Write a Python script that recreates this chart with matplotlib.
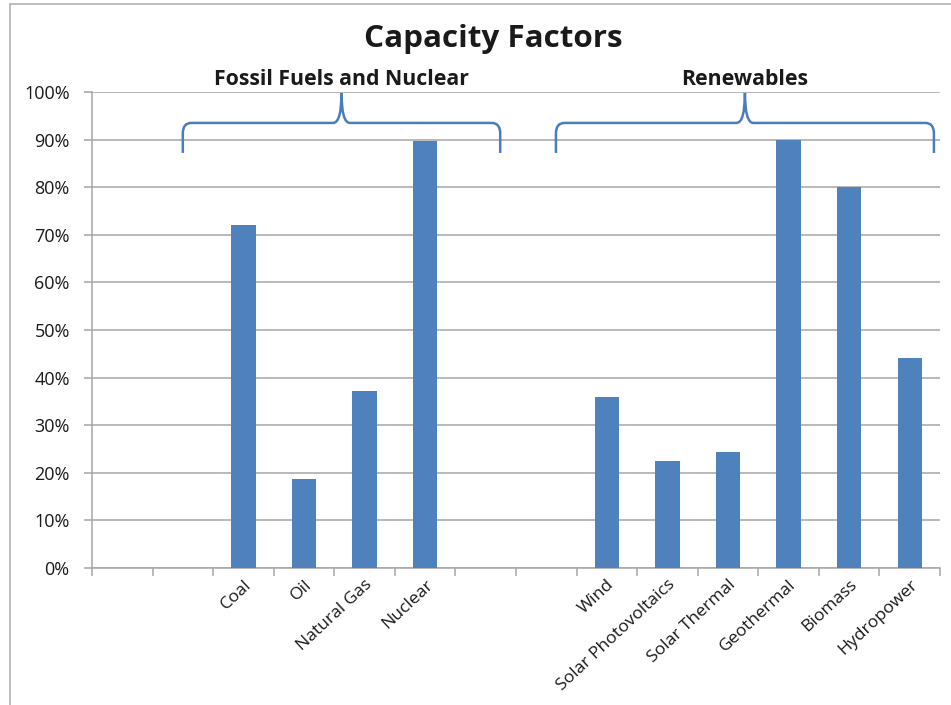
import matplotlib.pyplot as plt
from matplotlib.path import Path
from matplotlib.patches import PathPatch, Rectangle
from matplotlib.ticker import MultipleLocator, PercentFormatter
import numpy as np

# Category slots (empty slots separate and pad the two groups)
categories = ['', '', 'Coal', 'Oil', 'Natural Gas', 'Nuclear', '', '',
              'Wind', 'Solar Photovoltaics', 'Solar Thermal', 'Geothermal',
              'Biomass', 'Hydropower']
capacity = [0, 0, 72.1, 18.8, 37.2, 89.8, 0, 0,
            36.0, 22.5, 24.4, 90.0, 80.0, 44.1]

groups = ['Fossil Fuels and Nuclear', 'Renewables']
group_spans = [(1.0, 6.24), (7.16, 13.4)]

bar_color = '#4f81bd'
grid_color = '#a6a6a6'
brace_color = '#4a7ebb'
text_color = '#1a1a1a'

fig = plt.figure(figsize=(9.51, 7.05), dpi=100)
ax = fig.add_axes([0.0967, 0.1943, 0.8917, 0.6752])

x = np.arange(len(categories))
ax.bar(x, capacity, width=0.4, color=bar_color, zorder=3)

ax.set_xlim(-0.5, len(categories) - 0.5)
ax.set_ylim(0, 100)
ax.yaxis.set_major_locator(MultipleLocator(10))
ax.yaxis.set_major_formatter(PercentFormatter(decimals=0))
ax.grid(axis='y', color=grid_color, linewidth=1.1, zorder=0)

for side in ['top', 'right']:
    ax.spines[side].set_visible(False)
for side in ['bottom', 'left']:
    ax.spines[side].set_color(grid_color)
    ax.spines[side].set_linewidth(1.1)

# ticks on category boundaries, labels centred on bars
ax.set_xticks(np.arange(len(categories) + 1) - 0.5)
ax.set_xticklabels([])
ax.set_xticks(x, minor=True)
ax.set_xticklabels(categories, minor=True, rotation=43, ha='right',
                   va='top', rotation_mode='anchor', fontsize=12.6,
                   family='Open Sans', color=text_color)
ax.tick_params(axis='x', which='major', length=6, color=grid_color, width=1.1)
ax.tick_params(axis='x', which='minor', length=0, pad=6)
ax.tick_params(axis='y', length=6, color=grid_color, width=1.1, pad=10,
               labelsize=13, labelcolor=text_color)
for lbl in ax.get_yticklabels():
    lbl.set_family('Open Sans')


def brace(x0, x1, y_end=87.2, y_bar=93.5, y_tip=99.8):
    xm = (x0 + x1) / 2
    dx, dy = 0.14, 2.2
    verts = [(x0, y_end), (x0, y_bar - dy), (x0, y_bar), (x0 + dx, y_bar),
             (xm - dx, y_bar), (xm, y_bar), (xm, y_tip),
             (xm, y_tip), (xm, y_bar), (xm + dx, y_bar),
             (x1 - dx, y_bar), (x1, y_bar), (x1, y_bar - dy), (x1, y_end)]
    codes = [Path.MOVETO, Path.LINETO, Path.CURVE3, Path.CURVE3,
             Path.LINETO, Path.CURVE3, Path.CURVE3,
             Path.MOVETO, Path.CURVE3, Path.CURVE3,
             Path.LINETO, Path.CURVE3, Path.CURVE3, Path.LINETO]
    patch = PathPatch(Path(verts, codes), fill=False, edgecolor=brace_color,
                      linewidth=1.8, clip_on=False, zorder=4)
    ax.add_patch(patch)
    return xm


for name, (x0, x1) in zip(groups, group_spans):
    xm = brace(x0, x1)
    ax.text(xm, 102.6, name, ha='center', va='center', fontsize=15.3,
            fontweight='bold', family='Open Sans', color=text_color)

fig.text(0.519, 0.945, 'Capacity Factors', ha='center', va='center',
         fontsize=22.6, fontweight='bold', family='Open Sans', color=text_color)

# chart area border
fig.patches.append(Rectangle((0.0105, -0.1), 1.2, 1.094, transform=fig.transFigure,
                             fill=False, edgecolor='#b3b3b3', linewidth=1.2))

fig.savefig('out.png', dpi=100)
